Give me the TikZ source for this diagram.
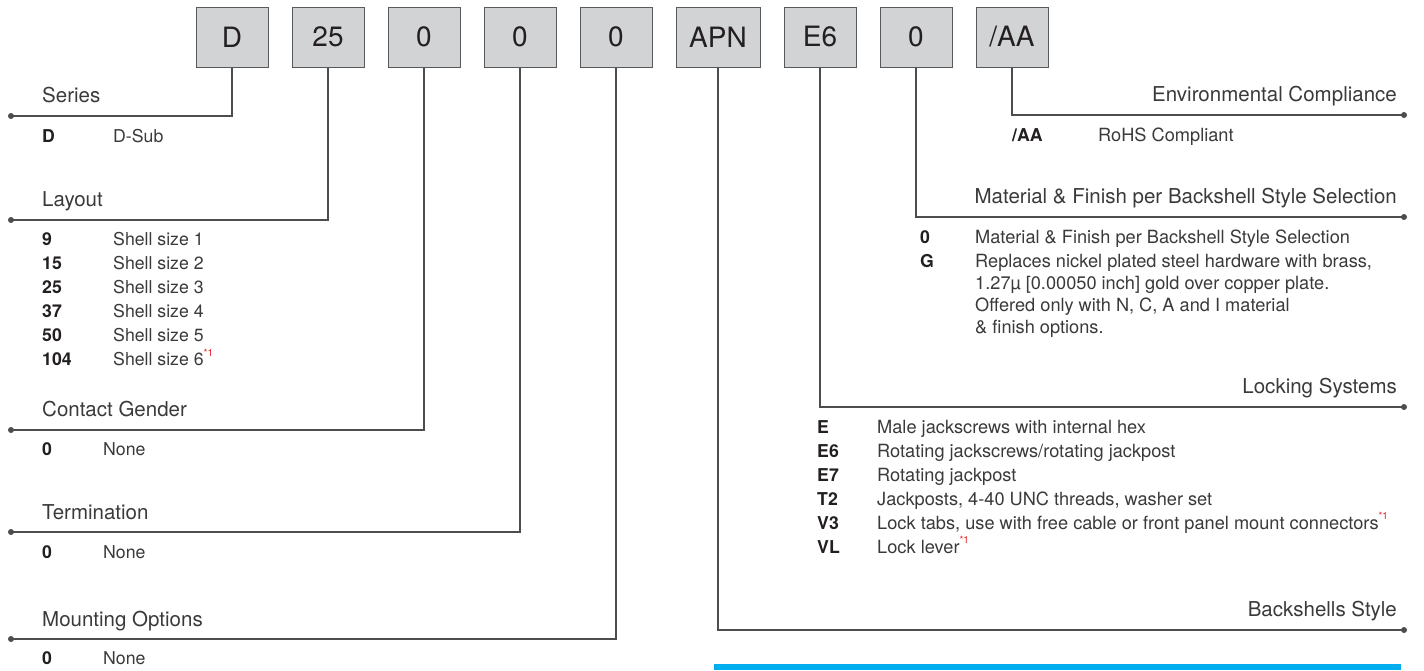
\documentclass[tikz,border=0pt]{standalone}
\usepackage{fontspec}
\setmainfont{TeX Gyre Heros}
\definecolor{boxfill}{HTML}{D1D3D4}
\definecolor{boxline}{HTML}{58595B}
\definecolor{wirec}{HTML}{4D4D4D}
\definecolor{ink}{HTML}{231F20}
\definecolor{soft}{HTML}{3A3A3A}
\definecolor{note}{HTML}{ED1C24}
\definecolor{barc}{HTML}{00AEEF}
\newcommand{\fnote}{\textcolor{note}{\raisebox{0.5em}{\fontsize{10}{10}\selectfont *1}}}
\begin{document}
\begin{tikzpicture}[x=1pt,y=-1pt,
  codebox/.style={draw=boxline,line width=1pt,fill=boxfill,minimum width=72pt,minimum height=60pt,inner sep=0pt,font=\fontsize{28}{28}\selectfont,text=ink},
  wire/.style={draw=wirec,line width=1.3pt},
  headl/.style={inner sep=0pt,anchor=base west,font=\fontsize{20.5}{24}\selectfont,text=soft},
  headr/.style={inner sep=0pt,anchor=base east,font=\fontsize{20.5}{24}\selectfont,text=soft},
  code/.style={inner sep=0pt,anchor=base west,font=\fontsize{17.7}{22}\selectfont\bfseries,text=ink},
  desc/.style={inner sep=0pt,anchor=base west,font=\fontsize{17.7}{22}\selectfont,text=soft},
  rdesc/.style={desc,font=\fontsize{18.2}{22}\selectfont},
  dotmark/.style={circle,fill=wirec,inner sep=0pt,minimum size=6pt}
]
\useasboundingbox (0,0) rectangle (1424,670);

% code boxes
\node[codebox] (b1) at (232,37) {D};
\node[codebox] (b2) at (328,37) {25};
\node[codebox] (b3) at (424,37) {0};
\node[codebox] (b4) at (520,37) {0};
\node[codebox] (b5) at (616,37) {0};
\node[codebox,minimum width=84pt] (b6) at (718,37) {APN};
\node[codebox] (b7) at (820,37) {E6};
\node[codebox] (b8) at (916,37) {0};
\node[codebox] (b9) at (1012,37) {/AA};

% end dots
\node[dotmark] (sDot) at (11,116) {};
\node[dotmark] (lDot) at (11,220) {};
\node[dotmark] (cDot) at (11,430) {};
\node[dotmark] (tDot) at (11,532) {};
\node[dotmark] (mDot) at (11,639) {};
\node[dotmark] (ecDot) at (1404,115) {};
\node[dotmark] (mfDot) at (1404,217) {};
\node[dotmark] (lkDot) at (1404,407) {};
\node[dotmark] (bsDot) at (1404,630) {};

% connectors
\draw[wire] (b1.south) |- (sDot.center);
\draw[wire] (b2.south) |- (lDot.center);
\draw[wire] (b3.south) |- (cDot.center);
\draw[wire] (b4.south) |- (tDot.center);
\draw[wire] (b5.south) |- (mDot.center);
\draw[wire] (b6.south) |- (bsDot.center);
\draw[wire] (b7.south) |- (lkDot.center);
\draw[wire] (b8.south) |- (mfDot.center);
\draw[wire] (b9.south) |- (ecDot.center);

% Series
\node[headl] (hS) at (42,102) {Series};
\node[code] (sC1) at (42,142) {D};
\node[desc] (sD1) at (113,142) {D-Sub};

% Layout
\node[headl] (hL) at (42,206) {Layout};
\node[code] (lC1) at (42,245) {9};   \node[desc] (lD1) at (113,245) {Shell size 1};
\node[code] (lC2) at (42,269) {15};  \node[desc] (lD2) at (113,269) {Shell size 2};
\node[code] (lC3) at (42,293) {25};  \node[desc] (lD3) at (113,293) {Shell size 3};
\node[code] (lC4) at (42,317) {37};  \node[desc] (lD4) at (113,317) {Shell size 4};
\node[code] (lC5) at (42,341) {50};  \node[desc] (lD5) at (113,341) {Shell size 5};
\node[code] (lC6) at (42,365) {104}; \node[desc] (lD6) at (113,365) {Shell size 6\fnote};

% Contact Gender
\node[headl] (hC) at (42,416) {Contact Gender};
\node[code] (cC1) at (42,455) {0}; \node[desc] (cD1) at (103,455) {None};

% Termination
\node[headl] (hT) at (42,519) {Termination};
\node[code] (tC1) at (42,558) {0}; \node[desc] (tD1) at (103,558) {None};

% Mounting Options
\node[headl] (hM) at (42,626) {Mounting Options};
\node[code] (mC1) at (42,664) {0}; \node[desc] (mD1) at (103,664) {None};

% Environmental Compliance
\node[headr] (hE) at (1397,101) {Environmental Compliance};
\node[code] (eC1) at (1012,141) {/AA}; \node[rdesc] (eD1) at (1098,141) {RoHS Compliant};

% Material & Finish
\node[headr] (hF) at (1397,203) {Material \& Finish per Backshell Style Selection};
\node[code] (fC1) at (920,243) {0}; \node[rdesc] (fD1) at (975,243) {Material \& Finish per Backshell Style Selection};
\node[code] (fC2) at (920,267) {G}; \node[rdesc] (fD2) at (975,267) {Replaces nickel plated steel hardware with brass,};
\node[rdesc] (fD3) at (975,289) {1.27µ [0.00050 inch] gold over copper plate.};
\node[rdesc] (fD4) at (975,311) {Offered only with N, C, A and I material};
\node[rdesc] (fD5) at (975,333) {\& finish options.};

% Locking Systems
\node[headr] (hK) at (1397,393) {Locking Systems};
\node[code] (kC1) at (817,433) {E};  \node[rdesc] (kD1) at (877,433) {Male jackscrews with internal hex};
\node[code] (kC2) at (817,457) {E6}; \node[rdesc] (kD2) at (877,457) {Rotating jackscrews/rotating jackpost};
\node[code] (kC3) at (817,481) {E7}; \node[rdesc] (kD3) at (877,481) {Rotating jackpost};
\node[code] (kC4) at (817,505) {T2}; \node[rdesc] (kD4) at (877,505) {Jackposts, 4-40 UNC threads, washer set};
\node[code] (kC5) at (817,529) {V3}; \node[rdesc] (kD5) at (877,529) {Lock tabs, use with free cable or front panel mount connectors\fnote};
\node[code] (kC6) at (817,553) {VL}; \node[rdesc] (kD6) at (877,553) {Lock lever\fnote};

% Backshells Style
\node[headr] (hB) at (1397,616) {Backshells Style};

% blue bar
\fill[barc] (714,664) rectangle (1401,670);
\end{tikzpicture}
\end{document}
